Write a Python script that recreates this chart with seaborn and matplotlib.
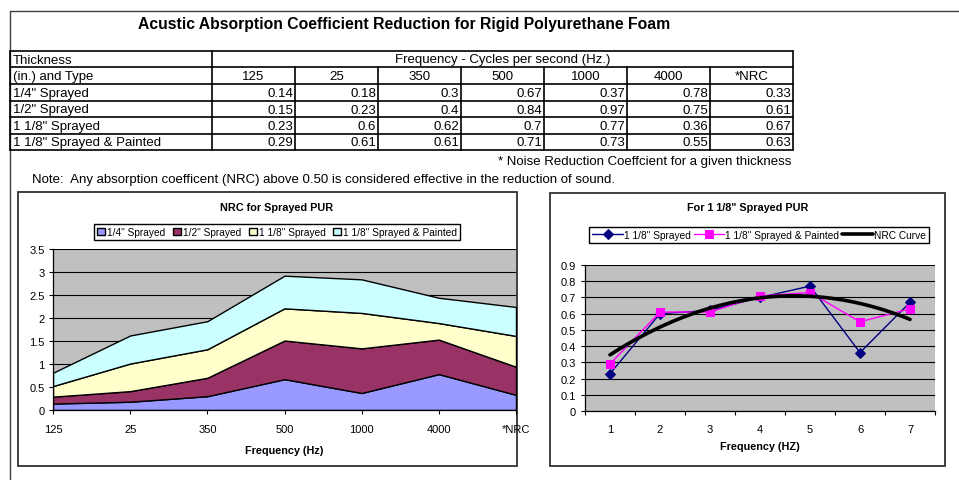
import numpy as np
import matplotlib
matplotlib.use('Agg')
import matplotlib.pyplot as plt
from matplotlib.patches import Rectangle
import seaborn as sns

# --- data ---
freq_labels = ['125', '25', '350', '500', '1000', '4000', '*NRC']
row_names = ['1/4" Sprayed', '1/2" Sprayed', '1 1/8" Sprayed', '1 1/8" Sprayed & Painted']
quarter_sprayed = [0.14, 0.18, 0.3, 0.67, 0.37, 0.78, 0.33]
half_sprayed = [0.15, 0.23, 0.4, 0.84, 0.97, 0.75, 0.61]
eighth_sprayed = [0.23, 0.6, 0.62, 0.7, 0.77, 0.36, 0.67]
eighth_painted = [0.29, 0.61, 0.61, 0.71, 0.73, 0.55, 0.63]
freq_index = [1, 2, 3, 4, 5, 6, 7]
area_colors = ['#9999FF', '#993366', '#FFFFCC', '#CCFFFF']

sns.set_style('white')
plt.rcParams['font.family'] = ['Liberation Sans', 'DejaVu Sans']
plt.rcParams['text.color'] = 'black'
plt.rcParams['axes.labelcolor'] = 'black'
plt.rcParams['xtick.color'] = 'black'
plt.rcParams['ytick.color'] = 'black'

W, H = 959, 481
fig = plt.figure(figsize=(W / 100, H / 100), dpi=100)

# background layer in pixel coordinates (sheet, table, notes)
bg = fig.add_axes([0, 0, 1, 1])
bg.set_xlim(0, W)
bg.set_ylim(H, 0)
bg.axis('off')

bg.plot([10, W], [12, 12], color='#404040', lw=1)
bg.plot([10, 10], [12, H], color='#404040', lw=1)
bg.text(404, 25, 'Acustic Absorption Coefficient Reduction for Rigid Polyurethane Foam',
        ha='center', va='center', fontsize=11.3, fontweight='bold')

# table
row_y = [52, 68, 85, 102, 118, 135, 151]
col_x = [10, 212, 295, 378, 461, 544, 627, 710, 793]
for y in row_y:
    bg.plot([10, 793], [y, y], color='black', lw=1.2)
for x in [10, 212, 793]:
    bg.plot([x, x], [52, 151], color='black', lw=1.2)
for x in col_x[2:-1]:
    bg.plot([x, x], [68, 151], color='black', lw=1.2)

fs = 9.5
bg.text(13, 60.5, 'Thickness', va='center', fontsize=fs)
bg.text((212 + 793) / 2, 60.5, 'Frequency - Cycles per second (Hz.)', ha='center', va='center', fontsize=fs)
bg.text(13, 77, '(in.) and Type', va='center', fontsize=fs)
for i, lab in enumerate(freq_labels):
    bg.text((col_x[i + 1] + col_x[i + 2]) / 2, 77, lab, ha='center', va='center', fontsize=fs)

table_rows = [quarter_sprayed, half_sprayed, eighth_sprayed, eighth_painted]
for r, (name, vals) in enumerate(zip(row_names, table_rows)):
    yc = (row_y[r + 2] + row_y[r + 3]) / 2 + 0.5
    bg.text(13, yc, name, va='center', fontsize=fs)
    for i, v in enumerate(vals):
        bg.text(col_x[i + 2] - 2, yc, f'{v:g}', ha='right', va='center', fontsize=fs)

bg.text(791, 162, '* Noise Reduction Coeffcient for a given thickness', ha='right', va='center', fontsize=fs)
bg.text(32, 180, 'Note:  Any absorption coefficent (NRC) above 0.50 is considered effective in the reduction of sound.',
        va='center', fontsize=fs)

# chart frames
bg.add_patch(Rectangle((18, 193), 499, 274, facecolor='white', edgecolor='#303030', lw=1.3))
bg.add_patch(Rectangle((550, 194), 395, 273, facecolor='white', edgecolor='#303030', lw=1.3))
cfs = 8.0
lfs = 7.3
bg.text(277, 208, 'NRC for Sprayed PUR', ha='center', va='center', fontsize=7.8, fontweight='bold')
bg.text(748, 208, 'For 1 1/8" Sprayed PUR', ha='center', va='center', fontsize=7.8, fontweight='bold')


def style_axes(ax):
    ax.set_facecolor('#C0C0C0')
    ax.yaxis.grid(True, color='black', lw=0.8)
    ax.set_axisbelow(True)
    for s in ['top', 'right']:
        ax.spines[s].set_visible(False)
    for s in ['left', 'bottom']:
        ax.spines[s].set_color('black')
        ax.spines[s].set_linewidth(0.9)
    ax.tick_params(direction='out', length=3, width=0.8, labelsize=cfs, left=True, bottom=True)


# left chart: stacked area
ax1 = fig.add_axes([53 / W, 1 - 411 / H, (516 - 53) / W, (411 - 250) / H])
polys = ax1.stackplot(range(len(freq_labels)), quarter_sprayed, half_sprayed, eighth_sprayed, eighth_painted,
                      colors=area_colors, edgecolor='black', lw=1, labels=row_names)
style_axes(ax1)
ax1.set_xlim(0, 6)
ax1.set_ylim(0, 3.5)
yt = np.arange(0, 3.51, 0.5)
ax1.set_yticks(yt)
ax1.set_yticklabels([f'{v:g}' for v in yt])
ax1.set_xticks(range(len(freq_labels)))
ax1.set_xticklabels(freq_labels)
ax1.tick_params(axis='x', pad=7)
ax1.tick_params(axis='y', pad=3)
ax1.set_xlabel('Frequency (Hz)', fontsize=7.8, fontweight='bold', labelpad=8)
fig.legend(polys, row_names, loc='center', bbox_to_anchor=(277 / W, 1 - 233 / H), ncol=4, fontsize=lfs,
           frameon=True, edgecolor='black', fancybox=False, framealpha=1, handlelength=0.8, handleheight=0.8,
           handletextpad=0.2, columnspacing=0.75, borderpad=0.3, borderaxespad=0)

# right chart: lines + quadratic trend (NRC curve)
ax2 = fig.add_axes([585 / W, 1 - 412 / H, 350 / W, 146 / H])
sns.lineplot(x=freq_index, y=eighth_sprayed, ax=ax2, color='#000080', marker='D', markersize=5,
             markeredgecolor='#000080', lw=1, label='1 1/8" Sprayed')
sns.lineplot(x=freq_index, y=eighth_painted, ax=ax2, color='#FF00FF', marker='s', markersize=6,
             markeredgecolor='#FF00FF', lw=1, label='1 1/8" Sprayed & Painted')
sns.regplot(x=freq_index, y=eighth_painted, ax=ax2, order=2, scatter=False, ci=None, color='black',
            line_kws={'lw': 2.6}, label='NRC Curve')
if ax2.get_legend() is not None:
    ax2.get_legend().remove()
style_axes(ax2)
ax2.set_xlim(0.5, 7.5)
ax2.set_ylim(0, 0.9)
yt2 = np.arange(0, 0.91, 0.1)
ax2.set_yticks(yt2)
ax2.set_yticklabels([f'{v:g}' for v in np.round(yt2, 1)])
ax2.set_xticks(np.arange(0.5, 7.6, 1))
ax2.set_xticklabels([])
ax2.set_xticks(freq_index, minor=True)
ax2.set_xticklabels([str(i) for i in freq_index], minor=True)
ax2.tick_params(axis='x', which='minor', length=0, pad=9.5, labelsize=cfs)
ax2.set_xlabel('Frequency (HZ)', fontsize=7.8, fontweight='bold', labelpad=5)
ax2.set_ylabel('')
h, l = ax2.get_legend_handles_labels()
fig.legend(h, l, loc='center', bbox_to_anchor=(759 / W, 1 - 236 / H), ncol=3, fontsize=lfs,
           frameon=True, edgecolor='black', fancybox=False, framealpha=1, handlelength=3.0,
           handletextpad=0.1, columnspacing=0.3, borderpad=0.3, borderaxespad=0)

fig.savefig('out.png', dpi=100)
